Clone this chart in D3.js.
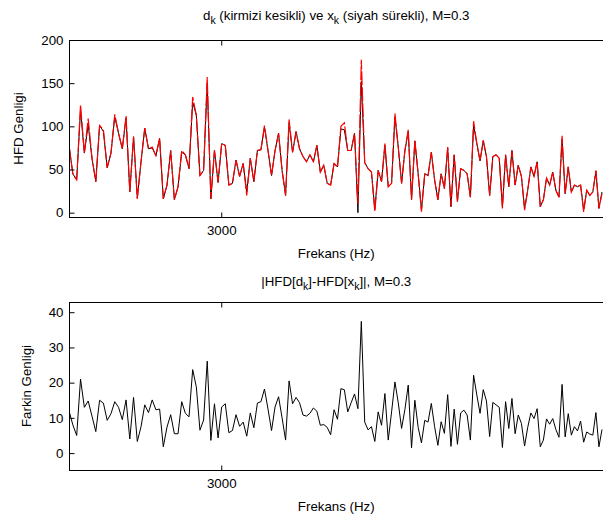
<!DOCTYPE html>
<html><head><meta charset="utf-8">
<script src="https://cdn.jsdelivr.net/npm/d3@7"></script>
<style>body{margin:0;background:#fff;overflow:hidden} svg{display:block}</style>
</head><body><svg id="c" width="603" height="521"></svg>
<script>
// ---- data ----
const freqStart = 2805;   // Hz, first bin
const freqStep = 4.77;    // Hz between bins
const dVals = [78,45,38,125,69,109,63,36,101,96,52,69,114,92,74,112,24,88,16,59,
98,74,76,66,86,16,32,72,15,30,72,67,51,134,113,43,49,157,16,72,
35,80,78,32,34,61,42,57,20,63,36,72,73,101,72,43,72,92,49,20,
108,70,94,74,65,59,67,59,78,47,55,34,32,57,53,100,104,72,72,92,
10,177,58,51,47,1,49,36,80,30,34,115,76,34,72,96,15,84,45,1,
45,43,70,38,15,45,28,76,7,67,13,51,49,45,18,106,80,60,84,65,
20,65,67,63,5,67,30,72,32,55,42,3,26,53,42,59,7,15,40,32,
47,26,18,89,22,53,24,32,30,32,1,26,20,24,49,5,22];
const xVals = [78,45,38,119,69,102,63,36,101,94,52,69,111,92,74,110,24,88,17,59,
98,74,75,66,86,16,32,72,15,30,70,67,51,128,113,43,49,150,16,72,
35,80,78,32,34,61,42,57,24,63,36,72,73,99,72,43,72,92,49,20,
104,70,94,74,65,59,67,59,78,47,55,34,32,57,53,97,96,72,72,92,
0,152,58,51,47,4,49,36,78,30,34,111,76,34,72,94,15,83,45,3,
45,43,70,38,15,45,28,75,7,67,13,51,49,45,18,101,80,60,83,65,
20,65,67,63,7,67,30,72,32,55,42,5,26,53,42,59,7,15,40,32,
47,26,18,85,22,53,24,32,30,32,3,26,20,24,48,5,24];
const diffVals = [12,8,5,21,13,14.8,10.5,6.1,15,14.2,9.3,11.2,14.6,13,9.5,15.1,4,15.8,3.3,7.5,
13.7,11.5,15.1,12.3,12.5,1.8,7.4,10.9,5.5,5.5,14.6,11.3,10.3,23.7,18.8,6.5,9.4,26.1,3.6,14,
4.3,13.1,14,5.8,6.4,10.9,7.6,8.8,4.8,11.4,7.2,14.2,14.6,18.2,12.5,6.4,13.1,16,10,3.7,
20.5,14,15.8,14.3,10.8,10.5,11.3,12.8,11.9,7.9,8.1,7.3,5.2,12.3,9.6,18.3,18,11.7,14.3,16.8,
12.6,37.4,8.8,6.6,7.5,3.3,11.7,7.9,16.9,3.7,11.7,20.2,14.3,7,12.4,19.3,1.5,15,7.3,2.9,
9.3,8.8,14.1,7.5,2.2,8.9,5.6,16.6,1.9,12.5,2.5,11.4,12.2,10.8,3.7,22.1,16.5,11.3,18,14.8,
4.7,14.4,13.7,13,1.6,14.6,7,15.5,5.5,10.8,8.4,2,7.3,11.4,9.8,12.6,1.8,3.7,9.7,8.2,
9.8,6.7,4.5,19.5,4.6,11.2,5.1,7.5,6.3,9.1,3.1,6,5.4,5.1,11.5,1.8,6.7];
const topYTicks = [0,50,100,150,200];
const botYTicks = [0,10,20,30,40];
const xTickVals = [3000];
const title1 = [["d",0],["k",1],[" (kirmizi kesikli) ve x",0],["k",1],[" (siyah sürekli), M=0.3",0]];
const title2 = [["|HFD[d",0],["k",1],["]-HFD[x",0],["k",1],["]|, M=0.3",0]];
const xLabel = "Frekans (Hz)";
const yLabelTop = "HFD Genligi";
const yLabelBot = "Farkin Genligi";

// ---- drawing ----
const FONT = "'Liberation Sans', Arial, Helvetica, sans-serif";
const FS = 13.3;
const svg = d3.select("#c");
const freqs = d3.range(dVals.length).map(i => freqStart + i * freqStep);
const L = 69, R = 603.5, DR = 602;
const x = d3.scaleLog().domain([freqs[0], freqs[freqs.length - 1]]).range([L, DR]);
const cx = (L + R) / 2;

function richText(parent, parts, xPos, yPos) {
  const t = parent.append("text").attr("x", xPos).attr("y", yPos)
    .attr("text-anchor", "middle").attr("font-family", FONT).attr("font-size", FS).attr("fill", "#000");
  let sub = false;
  parts.forEach(([s, isSub]) => {
    const ts = t.append("tspan").text(s);
    if (isSub && !sub) { ts.attr("dy", 4).attr("font-size", 10.5); sub = true; }
    else if (!isSub && sub) { ts.attr("dy", -4); sub = false; }
    else if (isSub) ts.attr("font-size", 10.5);
  });
  return t;
}

function panel(top, bottom, yDomain, yTicks, series, titleParts, titleY, ylabel, ylabelX, id) {
  const y = d3.scaleLinear().domain(yDomain).range([bottom, top]);
  const g = svg.append("g");
  g.append("clipPath").attr("id", id).append("rect")
    .attr("x", L).attr("y", top).attr("width", R - L).attr("height", bottom - top);
  const lines = g.append("g").attr("clip-path", `url(#${id})`);
  series.forEach(s => {
    lines.append("path").datum(s.values)
      .attr("fill", "none").attr("stroke", s.color).attr("stroke-width", s.width)
      .attr("stroke-dasharray", s.dash || null).attr("stroke-linejoin", "miter")
      .attr("d", d3.line().x((d, i) => x(freqs[i])).y(d => y(d)));
  });
  g.append("rect").attr("x", L + 0.5).attr("y", top + 0.5)
    .attr("width", R - L).attr("height", bottom - top)
    .attr("fill", "none").attr("stroke", "#000").attr("stroke-width", 1);
  const ya = g.append("g").attr("transform", `translate(${L + 0.5},0)`)
    .call(d3.axisLeft(y).tickValues(yTicks).tickSize(-5).tickPadding(6));
  ya.select(".domain").remove();
  const xa = g.append("g").attr("transform", `translate(0,${bottom + 0.5})`)
    .call(d3.axisBottom(x).tickValues(xTickVals).tickFormat(d3.format("d")).tickSize(-5).tickPadding(8));
  xa.select(".domain").remove();
  const xt = g.append("g").attr("transform", `translate(0,${top + 0.5})`)
    .call(d3.axisTop(x).tickValues(xTickVals).tickFormat("").tickSize(-5));
  xt.select(".domain").remove();
  [ya, xa, xt].forEach(a => a.attr("font-family", FONT).attr("font-size", FS)
    .selectAll("text").attr("fill", "#000"));
  g.selectAll(".tick line").attr("stroke", "#000");
  g.append("text").attr("x", cx).attr("y", bottom + 41).attr("text-anchor", "middle")
    .attr("font-family", FONT).attr("font-size", FS).text(xLabel);
  g.append("text").attr("transform", `translate(${ylabelX},${(top + bottom) / 2}) rotate(-90)`)
    .attr("text-anchor", "middle").attr("font-family", FONT).attr("font-size", FS).text(ylabel);
  richText(g, titleParts, cx, titleY);
}

panel(40, 217, [-5, 200], topYTicks, [
  { values: xVals, color: "#000", width: 1 },
  { values: dVals, color: "#ff0000", width: 1.2, dash: "14,2" }
], title1, 20, yLabelTop, 23, "clipTop");

panel(302, 470, [-4.8, 42.9], botYTicks, [
  { values: diffVals, color: "#000", width: 1 }
], title2, 286, yLabelBot, 31, "clipBot");
</script>
</body></html>
